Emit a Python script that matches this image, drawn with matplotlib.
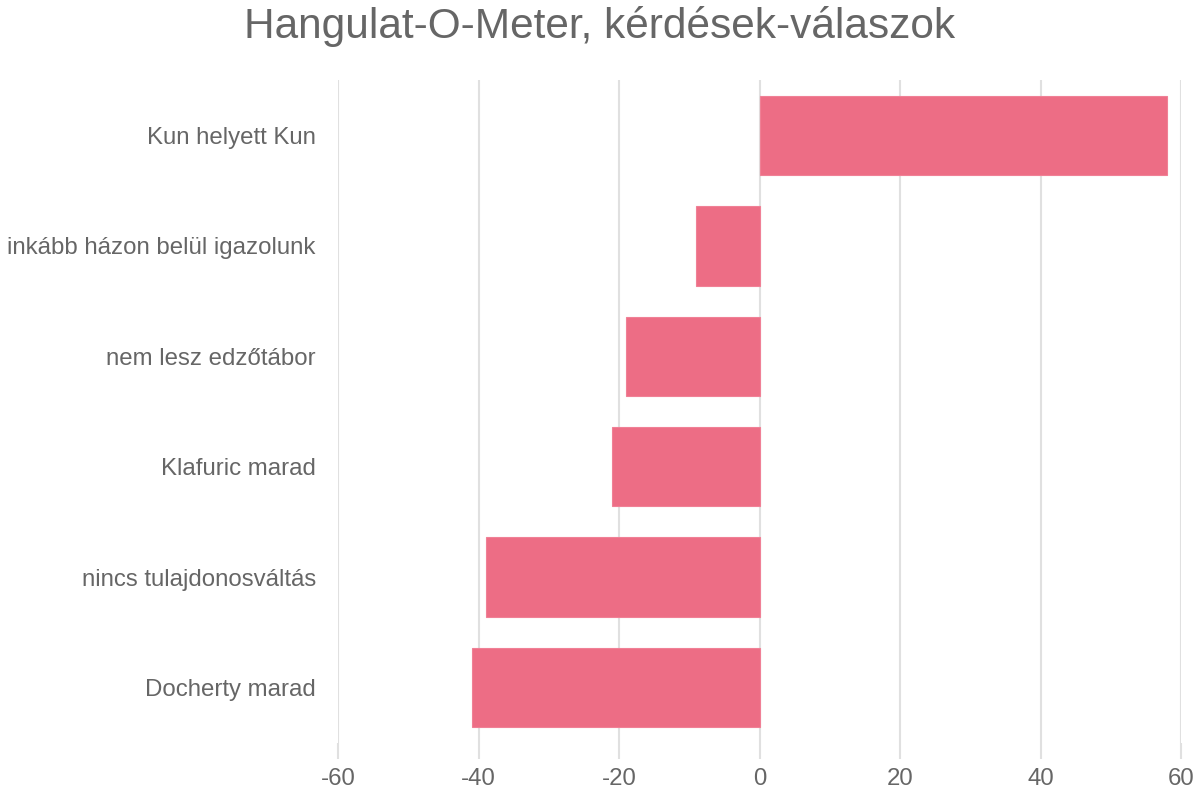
import matplotlib.pyplot as plt

categories = ['Kun helyett Kun', 'inkább házon belül igazolunk', 'nem lesz edzőtábor',
              'Klafuric marad', 'nincs tulajdonosváltás', 'Docherty marad']
values = [58, -9, -19, -21, -39, -41]
xticks = [-60, -40, -20, 0, 20, 40, 60]

plt.rcParams['font.family'] = ['Liberation Sans', 'DejaVu Sans']
text_color = '#666666'
grid_color = '#e0e0e0'

fig = plt.figure(figsize=(12, 8), dpi=100)
ax = fig.add_axes([0.2817, 0.0716, 0.7025, 0.828])

pos = list(range(len(categories)))
ax.barh(pos, values, height=0.72, color='#ED6D85', edgecolor='#F08096', linewidth=0.8, zorder=3)

ax.set_ylim(len(categories) - 0.5, -0.5)
ax.set_xlim(-60, 60)
ax.set_yticks(pos)
ax.set_yticklabels(categories)
ax.set_xticks(xticks)
ax.set_xticklabels([str(t) for t in xticks])

ax.grid(axis='x', color=grid_color, linewidth=1.5, zorder=0)
ax.tick_params(axis='x', length=11.5, width=1.5, color=grid_color, pad=7,
               labelsize=17.3, labelcolor=text_color)
ax.tick_params(axis='y', length=0, pad=16, labelsize=17.3, labelcolor=text_color)
for s in ax.spines.values():
    s.set_visible(False)

fig.text(0.5, 0.967, 'Hangulat-O-Meter, kérdések-válaszok', ha='center', va='center',
         fontsize=30.5, color=text_color)

fig.savefig('out.png', dpi=100)
